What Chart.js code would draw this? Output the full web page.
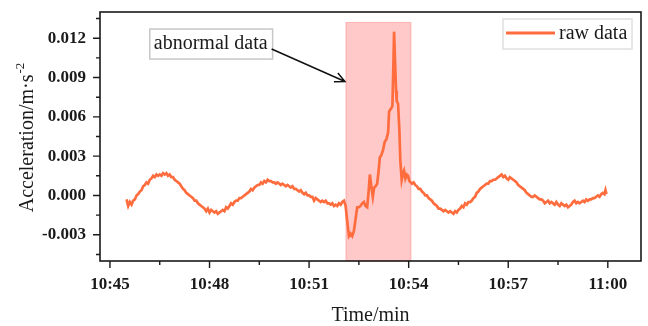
<!DOCTYPE html>
<html>
<head>
<meta charset="utf-8">
<title>raw data</title>
<script src="https://cdn.jsdelivr.net/npm/chart.js@4.4.1/dist/chart.umd.min.js"></script>
<style>
    html, body { margin: 0; padding: 0; background: #ffffff; }
    #wrap { width: 648px; height: 326px; }
</style>
</head>
<body>
<div id="wrap"><canvas id="accChart"></canvas></div>
<script>
// время в минутах от 10:45
const timeMin = [
    0.50, 0.55, 0.60, 0.65, 0.70, 0.75, 0.80, 0.85, 0.90, 0.95,
    1.00, 1.05, 1.10, 1.15, 1.20, 1.25, 1.30, 1.35, 1.40, 1.45,
    1.50, 1.55, 1.60, 1.65, 1.70, 1.75, 1.80, 1.85, 1.90, 1.95,
    2.00, 2.05, 2.10, 2.15, 2.20, 2.25, 2.30, 2.35, 2.40, 2.45,
    2.50, 2.55, 2.60, 2.65, 2.70, 2.75, 2.80, 2.85, 2.90, 2.95,
    3.00, 3.05, 3.10, 3.15, 3.20, 3.25, 3.30, 3.35, 3.40, 3.45,
    3.50, 3.55, 3.60, 3.65, 3.70, 3.75, 3.80, 3.85, 3.90, 3.95,
    4.00, 4.05, 4.10, 4.15, 4.20, 4.25, 4.30, 4.35, 4.40, 4.45,
    4.50, 4.55, 4.60, 4.65, 4.70, 4.75, 4.80, 4.85, 4.90, 4.95,
    5.00, 5.05, 5.10, 5.15, 5.20, 5.25, 5.30, 5.35, 5.40, 5.45,
    5.50, 5.55, 5.60, 5.65, 5.70, 5.75, 5.80, 5.85, 5.90, 5.95,
    6.00, 6.05, 6.10, 6.15, 6.20, 6.25, 6.30, 6.35, 6.40, 6.45,
    6.50, 6.55, 6.60, 6.65, 6.70, 6.75, 6.80, 6.85, 6.90, 6.95,
    7.00, 7.05, 7.10, 7.15, 7.20, 7.25, 7.30, 7.35, 7.40, 7.45,
    7.50, 7.55, 7.60, 7.65, 7.70, 7.75, 7.80, 7.83, 7.88, 7.92,
    7.96, 8.00, 8.05, 8.10, 8.13, 8.18, 8.23, 8.28, 8.33, 8.38,
    8.41, 8.46, 8.51, 8.54, 8.56, 8.59, 8.62, 8.64, 8.68, 8.72,
    8.75, 8.79, 8.83, 8.86, 8.90, 8.94, 8.98, 9.02, 9.06, 9.10,
    9.15, 9.20, 9.25, 9.30, 9.35, 9.40, 9.45, 9.50, 9.55, 9.60,
    9.65, 9.70, 9.75, 9.80, 9.85, 9.90, 9.95, 10.00, 10.05, 10.10,
    10.15, 10.20, 10.25, 10.30, 10.35, 10.40, 10.45, 10.50, 10.55, 10.60,
    10.65, 10.70, 10.75, 10.80, 10.85, 10.90, 10.95, 11.00, 11.05, 11.10,
    11.15, 11.20, 11.25, 11.30, 11.35, 11.40, 11.45, 11.50, 11.55, 11.60,
    11.65, 11.70, 11.75, 11.80, 11.85, 11.90, 11.95, 12.00, 12.05, 12.10,
    12.15, 12.20, 12.25, 12.30, 12.35, 12.40, 12.45, 12.50, 12.55, 12.60,
    12.65, 12.70, 12.75, 12.80, 12.85, 12.90, 12.95, 13.00, 13.05, 13.10,
    13.15, 13.20, 13.25, 13.30, 13.35, 13.40, 13.45, 13.50, 13.55, 13.60,
    13.65, 13.70, 13.75, 13.80, 13.85, 13.90, 13.95, 14.00, 14.05, 14.10,
    14.15, 14.20, 14.25, 14.30, 14.35, 14.40, 14.45, 14.50, 14.55, 14.60,
    14.65, 14.70, 14.75, 14.80, 14.85, 14.90, 14.93, 14.96
];

// ускорение, м/с^2
const rawData = [
    -0.0003, -0.0008, -0.0005, -0.0007, -0.0004, -0.0003, 0.0000, 0.0001, 0.0003, 0.0004,
    0.0007, 0.0008, 0.0010, 0.0009, 0.0012, 0.0013, 0.0015, 0.0014, 0.0016, 0.0015,
    0.0016, 0.0015, 0.0017, 0.0016, 0.0017, 0.0015, 0.0016, 0.0014, 0.0014, 0.0012,
    0.0011, 0.0010, 0.0009, 0.0007, 0.0005, 0.0004, 0.0002, 0.0001, 0.0000, -0.0001,
    -0.0002, -0.0004, -0.0004, -0.0006, -0.0007, -0.0008, -0.0009, -0.0010, -0.0012, -0.0010,
    -0.0013, -0.0011, -0.0012, -0.0013, -0.0012, -0.0014, -0.0013, -0.0012, -0.0011, -0.0012,
    -0.0009, -0.0010, -0.0008, -0.0006, -0.0007, -0.0005, -0.0004, -0.0004, -0.0002, -0.0002,
    -0.0001, 0.0000, 0.0001, 0.0002, 0.0003, 0.0005, 0.0004, 0.0006, 0.0007, 0.0008,
    0.0008, 0.0010, 0.0009, 0.0011, 0.0010, 0.0012, 0.0011, 0.0011, 0.0010, 0.0010,
    0.0009, 0.0010, 0.0009, 0.0008, 0.0009, 0.0008, 0.0007, 0.0008, 0.0007, 0.0006,
    0.0007, 0.0005, 0.0005, 0.0004, 0.0003, 0.0004, 0.0002, 0.0001, 0.0002, 0.0000,
    0.0000, -0.0001, -0.0001, -0.0004, -0.0002, -0.0003, -0.0004, -0.0005, -0.0004, -0.0005,
    -0.0004, -0.0006, -0.0006, -0.0007, -0.0006, -0.0008, -0.0007, -0.0008, -0.0006, -0.0007,
    -0.0005, -0.0004, -0.0008, -0.0020, -0.0031, -0.0029, -0.0031, -0.0027, -0.0018, -0.0009,
    -0.0009, -0.0008, -0.0006, -0.0005, -0.0008, -0.0009, 0.0005, 0.0016, 0.0006, -0.0001,
    0.0006, 0.0007, 0.0009, 0.0020, 0.0029, 0.0031, 0.0035, 0.0041, 0.0043, 0.0048,
    0.0064, 0.0066, 0.0068, 0.0100, 0.0125, 0.0102, 0.0080, 0.0072, 0.0070, 0.0050,
    0.0026, 0.0012, 0.0017, 0.0019, 0.0013, 0.0016, 0.0015, 0.0011, 0.0010, 0.0009,
    0.0010, 0.0008, 0.0007, 0.0005, 0.0005, 0.0003, 0.0002, 0.0000, 0.0000, -0.0002,
    -0.0003, -0.0004, -0.0006, -0.0007, -0.0008, -0.0010, -0.0010, -0.0011, -0.0012, -0.0011,
    -0.0012, -0.0013, -0.0012, -0.0013, -0.0014, -0.0012, -0.0013, -0.0011, -0.0010, -0.0008,
    -0.0009, -0.0006, -0.0007, -0.0005, -0.0005, -0.0004, -0.0002, -0.0001, 0.0002, 0.0003,
    0.0005, 0.0006, 0.0007, 0.0008, 0.0009, 0.0009, 0.0011, 0.0011, 0.0012, 0.0012,
    0.0013, 0.0014, 0.0015, 0.0016, 0.0014, 0.0015, 0.0013, 0.0012, 0.0014, 0.0013,
    0.0012, 0.0011, 0.0010, 0.0008, 0.0007, 0.0006, 0.0005, 0.0004, 0.0002, 0.0001,
    0.0000, -0.0001, -0.0001, 0.0000, -0.0001, -0.0002, -0.0003, -0.0003, -0.0004, -0.0006,
    -0.0005, -0.0004, -0.0006, -0.0005, -0.0006, -0.0007, -0.0005, -0.0007, -0.0008, -0.0006,
    -0.0007, -0.0008, -0.0007, -0.0009, -0.0008, -0.0007, -0.0005, -0.0004, -0.0006, -0.0005,
    -0.0006, -0.0005, -0.0004, -0.0005, -0.0003, -0.0004, -0.0003, -0.0003, -0.0002, -0.0002,
    -0.0001, 0.0000, -0.0001, 0.0001, 0.0002, 0.0001, 0.0004, 0.0001
];

// деления осей: подписываются только основные
const xTicks = [0, 1.5, 3, 4.5, 6, 7.5, 9, 10.5, 12, 13.5, 15];
const xTickMinutes = [0, 3, 6, 9, 12, 15];
const xTickLabels = ['10:45', '10:48', '10:51', '10:54', '10:57', '11:00'];
const yTicks = [-0.0045, -0.003, -0.0015, 0, 0.0015, 0.003, 0.0045, 0.006, 0.0075, 0.009, 0.0105, 0.012, 0.0135];
const yTickValues = [-0.003, 0, 0.003, 0.006, 0.009, 0.012];

// интервал аномальных данных (минуты) и верх выделения
const abnormalSpan = [7.11, 9.07];
const abnormalTop = 0.0132;

const lineColor = '#FF6C3E';
const serif = '"Liberation Serif", "Times New Roman", serif';

// Плагин: выделение интервала, рамка, засечки, подпись со стрелкой, легенда и названия осей
const abnormalPlugin = {
    id: 'abnormalRegion',
    beforeDatasetsDraw(chart) {
        const { ctx, chartArea, scales: { x, y } } = chart;
        const x0 = x.getPixelForValue(abnormalSpan[0]);
        const x1 = x.getPixelForValue(abnormalSpan[1]);
        const yTop = y.getPixelForValue(abnormalTop);
        ctx.save();
        ctx.fillStyle = 'rgba(255, 0, 0, 0.21)';
        ctx.fillRect(x0, yTop, x1 - x0, chartArea.bottom - yTop);
        ctx.strokeStyle = 'rgba(255, 90, 90, 0.35)';
        ctx.lineWidth = 1;
        ctx.strokeRect(x0, yTop, x1 - x0, chartArea.bottom - yTop);
        ctx.restore();
    },
    afterDraw(chart) {
        const { ctx, chartArea, scales: { x, y } } = chart;
        const { left, right, top, bottom } = chartArea;
        ctx.save();

        // рамка
        ctx.strokeStyle = '#1a1a1a';
        ctx.lineWidth = 1.6;
        ctx.strokeRect(left, top, right - left, bottom - top);

        // засечки наружу
        ctx.lineWidth = 1.4;
        ctx.beginPath();
        xTicks.forEach(v => {
            const px = x.getPixelForValue(v);
            const len = xTickMinutes.includes(v) ? 7 : 4;
            ctx.moveTo(px, bottom);
            ctx.lineTo(px, bottom + len);
        });
        yTicks.forEach(v => {
            const py = y.getPixelForValue(v);
            const len = yTickValues.includes(v) ? 7 : 4;
            ctx.moveTo(left, py);
            ctx.lineTo(left - len, py);
        });
        ctx.stroke();

        // подпись "abnormal data" и стрелка к выделению
        ctx.font = '20px ' + serif;
        ctx.textBaseline = 'middle';
        const label = 'abnormal data';
        const bx = x.getPixelForValue(1.2);
        const by = y.getPixelForValue(0.0127);
        const bw = ctx.measureText(label).width + 9;
        const bh = 30;
        ctx.fillStyle = '#ffffff';
        ctx.fillRect(bx, by, bw, bh);
        ctx.strokeStyle = '#c8c8c8';
        ctx.lineWidth = 1.5;
        ctx.strokeRect(bx, by, bw, bh);
        ctx.fillStyle = '#1a1a1a';
        ctx.textAlign = 'left';
        ctx.fillText(label, bx + 4, by + bh / 2);

        const sx = bx + bw - 1;
        const sy = by + 20;
        const tx = x.getPixelForValue(7.08);
        const ty = y.getPixelForValue(0.0087);
        const ang = Math.atan2(ty - sy, tx - sx);
        ctx.strokeStyle = '#111111';
        ctx.lineWidth = 1.5;
        ctx.beginPath();
        ctx.moveTo(sx, sy);
        ctx.lineTo(tx, ty);
        ctx.moveTo(tx - 11 * Math.cos(ang - 0.45), ty - 11 * Math.sin(ang - 0.45));
        ctx.lineTo(tx, ty);
        ctx.lineTo(tx - 11 * Math.cos(ang + 0.45), ty - 11 * Math.sin(ang + 0.45));
        ctx.stroke();

        // легенда
        const lw = 129, lh = 30;
        const lx = right - 9 - lw;
        const ly = top + 7;
        ctx.strokeStyle = '#e0e0e0';
        ctx.lineWidth = 1.5;
        ctx.strokeRect(lx, ly, lw, lh);
        ctx.strokeStyle = lineColor;
        ctx.lineWidth = 3;
        ctx.beginPath();
        ctx.moveTo(lx + 3, ly + 14);
        ctx.lineTo(lx + 52, ly + 14);
        ctx.stroke();
        ctx.fillStyle = '#1a1a1a';
        ctx.fillText(chart.data.datasets[0].label, lx + 56, ly + 15);

        // название оси X
        ctx.textAlign = 'center';
        ctx.textBaseline = 'alphabetic';
        ctx.fillText('Time/min', (left + right) / 2, 321);

        // название оси Y со степенью
        const main = 'Acceleration/m·s';
        const sup = '-2';
        const mainW = ctx.measureText(main).width;
        ctx.font = '13px ' + serif;
        const supW = ctx.measureText(sup).width;
        const start = -(mainW + supW + 1) / 2;
        ctx.translate(33, (top + bottom) / 2 + 1);
        ctx.rotate(-Math.PI / 2);
        ctx.textAlign = 'left';
        ctx.fillText(sup, start + mainW + 1, -9);
        ctx.font = '20px ' + serif;
        ctx.fillText(main, start, 0);

        ctx.restore();
    }
};

const tickFont = { family: serif, size: 17, weight: 'bold' };

new Chart(document.getElementById('accChart'), {
    type: 'line',
    data: {
        datasets: [{
            label: 'raw data',
            data: timeMin.map((t, i) => ({ x: t, y: rawData[i] })),
            borderColor: lineColor,
            borderWidth: 2.7,
            pointRadius: 0,
            tension: 0
        }]
    },
    options: {
        responsive: true,
        maintainAspectRatio: false,
        animation: false,
        layout: { padding: { top: 12, right: 7, left: 0, bottom: 0 } },
        plugins: {
            legend: { display: false },
            tooltip: { enabled: false }
        },
        scales: {
            x: {
                type: 'linear',
                min: -0.3,
                max: 16,
                afterBuildTicks: scale => { scale.ticks = xTicks.map(v => ({ value: v })); },
                afterFit: scale => {
                    scale.height = 65;
                    scale.paddingLeft = 0;
                    scale.paddingRight = 0;
                },
                grid: { display: false, drawTicks: false },
                border: { display: false },
                ticks: {
                    autoSkip: false,
                    maxRotation: 0,
                    padding: 13,
                    color: '#1a1a1a',
                    font: tickFont,
                    callback: value => {
                        const i = xTickMinutes.indexOf(value);
                        return i >= 0 ? xTickLabels[i] : '';
                    }
                }
            },
            y: {
                min: -0.005,
                max: 0.014,
                afterBuildTicks: scale => { scale.ticks = yTicks.map(v => ({ value: v })); },
                afterFit: scale => {
                    scale.width = 100;
                    scale.paddingTop = 0;
                    scale.paddingBottom = 0;
                },
                grid: { display: false, drawTicks: false },
                border: { display: false },
                ticks: {
                    autoSkip: false,
                    padding: 14,
                    color: '#1a1a1a',
                    font: tickFont,
                    callback: value => yTickValues.includes(value) ? value.toFixed(3) : ''
                }
            }
        }
    },
    plugins: [abnormalPlugin]
});
</script>
</body>
</html>
